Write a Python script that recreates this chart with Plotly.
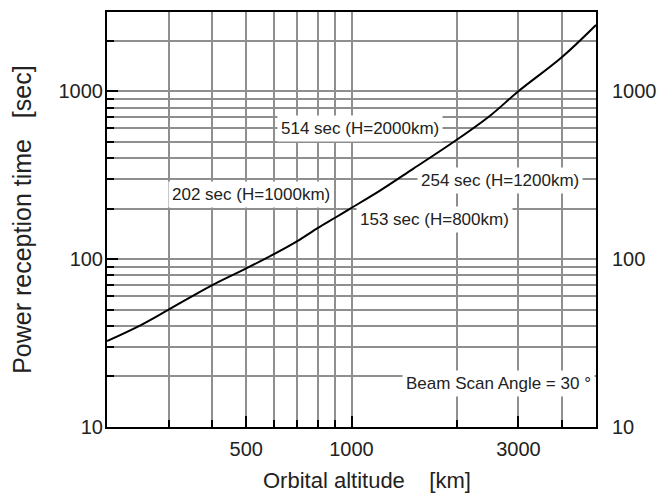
import plotly.graph_objects as go

# Data
altitude_km = [200, 250, 300, 400, 500, 600, 700, 800, 900, 1000, 1200, 1500, 2000, 2500, 3000, 4000, 5000]
reception_s = [32.5, 40.5, 50, 70, 88, 107, 128, 153, 177, 202, 254, 345, 514, 720, 1000, 1600, 2480]

x_major = [500, 1000, 3000]
x_major_text = ["500", "1000", "3000"]
x_minor = [300, 400, 600, 700, 800, 900, 2000, 4000]

y_major = [10, 100, 1000]
y_major_text = ["10", "100", "1000"]
y_minor = [20, 30, 40, 50, 60, 70, 80, 90, 200, 300, 400, 500, 600, 700, 800, 900, 2000]

labels = [
    ("514 sec (H=2000km)", 0.517, 0.719),
    ("202 sec (H=1000km)", 0.294, 0.561),
    ("254 sec (H=1200km)", 0.804, 0.594),
    ("153 sec (H=800km)", 0.669, 0.501),
    ("Beam Scan Angle = 30 °", 0.800, 0.104),
]

FONT = "Liberation Sans, Arial, Helvetica, sans-serif"
GRID = "#8f8f8f"
TXT = "#222"

fig = go.Figure()
fig.add_trace(go.Scatter(x=altitude_km, y=reception_s, mode="lines",
                         line=dict(color="black", width=2, shape="spline", smoothing=1),
                         showlegend=False, hoverinfo="skip"))
fig.add_trace(go.Scatter(x=[altitude_km[0]], y=[reception_s[0]], yaxis="y2", mode="markers",
                         marker=dict(opacity=0), showlegend=False, hoverinfo="skip"))

axis_common = dict(type="log", showline=True, linecolor="black", linewidth=2,
                   ticks="inside", tickcolor="black", tickwidth=1.5, ticklen=11,
                   showgrid=True, gridcolor=GRID, gridwidth=1.5,
                   tickfont=dict(family=FONT, size=20, color=TXT),
                   zeroline=False, automargin=False)

minor_common = dict(tickmode="array", ticks="inside", ticklen=7, tickcolor="black",
                    tickwidth=1.5, showgrid=True, gridcolor=GRID, gridwidth=1.5)

fig.update_layout(
    width=660, height=494,
    margin=dict(l=107, r=64, t=12, b=67),
    paper_bgcolor="white", plot_bgcolor="white",
    xaxis=dict(**axis_common, range=[2.30103, 3.69897], mirror=True,
               tickmode="array", tickvals=x_major, ticktext=x_major_text,
               ticklabelstandoff=3,
               minor=dict(**minor_common, tickvals=x_minor)),
    yaxis=dict(**axis_common, range=[1, 3.472], mirror=True,
               tickmode="array", tickvals=y_major, ticktext=y_major_text,
               ticklabelstandoff=-2,
               minor=dict(**minor_common, tickvals=y_minor)),
    yaxis2=dict(type="log", overlaying="y", side="right", range=[1, 3.472],
                tickmode="array", tickvals=y_major, ticktext=y_major_text,
                ticks="", showgrid=False, showline=False, zeroline=False,
                ticklabelstandoff=15, automargin=False,
                tickfont=dict(family=FONT, size=20, color=TXT)),
)

for text, xp, yp in labels:
    fig.add_annotation(text=text, x=xp, y=yp, xref="paper", yref="paper",
                       xanchor="center", yanchor="middle",
                       showarrow=False, bgcolor="white", borderpad=3,
                       font=dict(family=FONT, size=17, color=TXT))

fig.add_annotation(text="Orbital altitude    [km]", x=0.532, y=-0.128, xref="paper", yref="paper",
                   showarrow=False, xanchor="center", yanchor="middle",
                   font=dict(family=FONT, size=22, color=TXT))
fig.add_annotation(text="Power reception time   [sec]", x=-0.174, y=0.499, xref="paper", yref="paper",
                   showarrow=False, textangle=-90, xanchor="center", yanchor="middle",
                   font=dict(family=FONT, size=25, color=TXT))

fig.write_html("out.html", config={"displayModeBar": False},
               post_script="document.body.style.margin='0';")
